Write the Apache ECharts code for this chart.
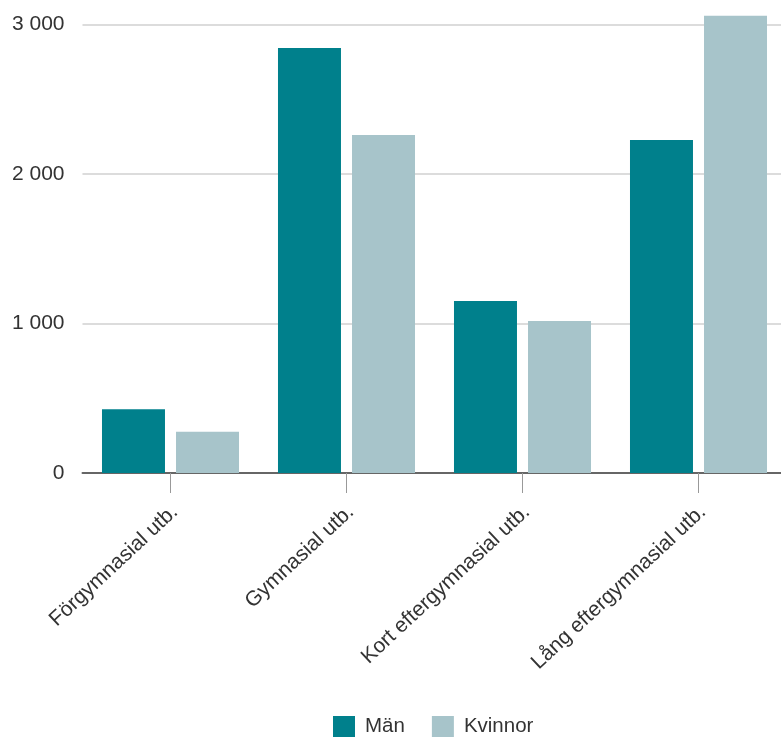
<!DOCTYPE html>
<html><head><meta charset="utf-8">
<script src="https://cdn.jsdelivr.net/npm/echarts@6/dist/echarts.min.js"></script>
<style>html,body{margin:0;padding:0;background:#fff}#c{width:781px;height:738px}</style>
</head><body><div id="c"></div>
<script>
const categories = ["Förgymnasial utb.", "Gymnasial utb.", "Kort eftergymnasial utb.", "Lång eftergymnasial utb."];
const man = [426, 2843, 1150, 2227];
const kvinnor = [276, 2261, 1017, 3059];
const seriesNames = ["Män", "Kvinnor"];

const FONT = '"Liberation Sans", Arial, sans-serif';
const chart = echarts.init(document.getElementById('c'));
chart.setOption({
  animation: false,
  textStyle: { fontFamily: FONT },
  grid: { left: 82.5, width: 704, top: 24.5, bottom: 265, containLabel: false, outerBoundsMode: 'none' },
  legend: {
    data: seriesNames, left: 333, top: 716, padding: 0, itemWidth: 22, itemHeight: 21, itemGap: 27,
    icon: 'rect',
    textStyle: { fontSize: 20.5, color: '#333', fontFamily: FONT, padding: [0, 0, 0, 5] }
  },
  xAxis: {
    type: 'category', data: categories,
    axisLine: { lineStyle: { color: '#666', width: 2 } },
    axisTick: { show: true, alignWithLabel: true, length: 20, lineStyle: { color: '#999', width: 1 } },
    axisLabel: { rotate: 43, fontSize: 21, color: '#333', margin: 40, padding: [0, -6, 0, 0], interval: 0, fontFamily: FONT }
  },
  yAxis: {
    type: 'value', min: 0, max: 3000, interval: 1000,
    axisLabel: { fontSize: 21, color: '#333', margin: 18, fontFamily: FONT, formatter: v => v === 0 ? '0' : String(v).replace(/\B(?=(\d{3})+(?!\d))/g, ' ') },
    splitLine: { lineStyle: { color: '#dcdcdc', width: 2 } },
    axisLine: { show: false }, axisTick: { show: false }
  },
  series: [
    { name: seriesNames[0], type: 'bar', data: man, barWidth: 63, barGap: '17.5%', clip: false, itemStyle: { color: '#00808C' } },
    { name: seriesNames[1], type: 'bar', data: kvinnor, barWidth: 63, clip: false, itemStyle: { color: '#A7C4CA' } }
  ]
});
</script></body></html>
